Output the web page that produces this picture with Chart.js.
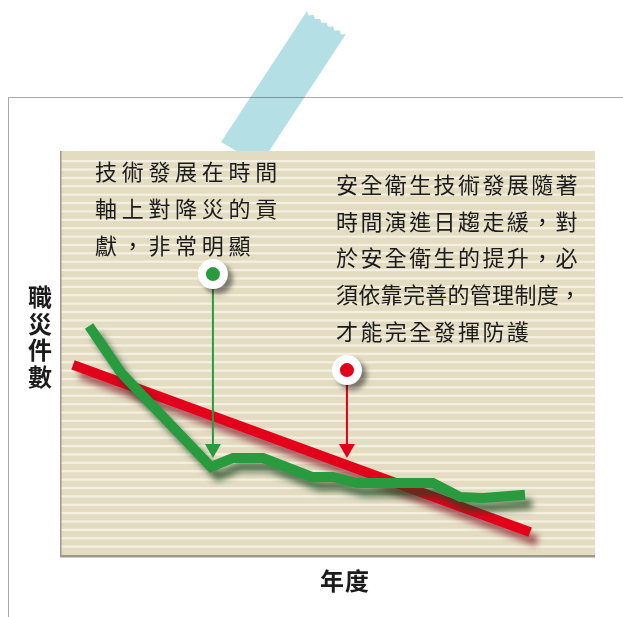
<!DOCTYPE html>
<html>
<head>
<meta charset="utf-8">
<script src="https://cdn.jsdelivr.net/npm/chart.js@4.4.0/dist/chart.umd.min.js"></script>
<style>
html, body { margin: 0; padding: 0; background: #fff; }
#wrap { position: relative; width: 623px; height: 617px; overflow: hidden; }
#chart { position: absolute; left: 0; top: 0; }
.txt { position: absolute; font-family: "Noto Sans CJK TC", "Noto Sans CJK SC", sans-serif; color: #1b1b1b; white-space: nowrap; }
.note1 { left: 95px; top: 152px; font-size: 22px; line-height: 37px; letter-spacing: 4.7px; }
.note2 { left: 336px; top: 165px; font-size: 22px; line-height: 36.7px; letter-spacing: 2.4px; }
.note2 .tight { letter-spacing: 0.3px; }
.ylab { left: 28px; top: 283px; width: 24px; font-size: 24px; line-height: 26.7px; font-weight: bold; text-align: center; }
.xlab { left: 320px; top: 565px; font-size: 24px; line-height: 30px; font-weight: bold; letter-spacing: 1px; }
</style>
</head>
<body>
<div id="wrap">
  <canvas id="chart" width="623" height="617"></canvas>
  <div class="txt note1">技術發展在時間<br>軸上對降災的貢<br>獻，非常明顯</div>
  <div class="txt note2">安全衛生技術發展隨著<br>時間演進日趨走緩，對<br>於安全衛生的提升，必<br><span class="tight">須依靠完善的管理制度，</span><br>才能完全發揮防護</div>
  <div class="txt ylab">職<br>災<br>件<br>數</div>
  <div class="txt xlab">年度</div>
</div>
<script>
// 職災件數（圖上沒有刻度，數值為相對位置）
const greenX = [1.05, 2.25, 5.62, 6.44, 7.57, 9.40, 10.19, 11.09, 13.93, 14.94, 15.81, 17.38];
const greenY = [56.8, 45.2, 22.0, 24.2, 24.2, 19.5, 19.5, 18.0, 18.0, 14.6, 14.3, 15.1];
// 安全衛生技術趨勢線
const redX = [0.45, 17.57];
const redY = [47.2, 5.9];
// 標註點與箭頭終點
const markX = [5.69, 10.71];
const markY = [69.6, 45.9];
const arrowEndY = [24.2, 24.2];
const markColors = ['#279b3d', '#e2001b'];

const GREEN = '#279b3d';
const RED = '#e2001b';

function pts(xs, ys) {
    return xs.map((x, i) => ({ x: x, y: ys[i] }));
}

// 陰影設定（依 dataset 順序）
const shadows = {
    1: { color: 'rgba(0,0,0,0.45)', x: 5, y: 5, blur: 5 },
    2: { color: 'rgba(25,70,30,0.7)', x: 7, y: 9, blur: 6 },
    3: { color: 'rgba(120,0,20,0.6)', x: 7, y: 9, blur: 6 }
};

const decor = {
    id: 'decor',
    beforeDraw(chart) {
        const ctx = chart.ctx;
        const a = chart.chartArea;
        ctx.save();
        // 膠帶
        const TL = [307, 11], TR = [346, 34];
        const inward = [-0.549, 0.836];
        ctx.fillStyle = '#b4e0e5';
        ctx.beginPath();
        ctx.moveTo(TL[0], TL[1]);
        const teeth = 12;
        for (let i = 1; i < teeth; i++) {
            const t = i / teeth;
            const d = (i % 2) ? 3 : 0;
            ctx.lineTo(TL[0] + (TR[0] - TL[0]) * t + inward[0] * d,
                       TL[1] + (TR[1] - TL[1]) * t + inward[1] * d);
        }
        ctx.lineTo(TR[0], TR[1]);
        ctx.lineTo(260, 165);
        ctx.lineTo(221, 142);
        ctx.closePath();
        ctx.fill();
        // 外框
        ctx.strokeStyle = 'rgba(0,0,0,0.33)';
        ctx.lineWidth = 1;
        ctx.beginPath();
        ctx.moveTo(623, 97.5);
        ctx.lineTo(8.5, 97.5);
        ctx.lineTo(8.5, 617);
        ctx.stroke();
        // 圖表底色與橫紋
        ctx.fillStyle = '#e3dcc1';
        ctx.fillRect(a.left, a.top, a.right - a.left, a.bottom - a.top);
        ctx.fillStyle = '#f3efe2';
        for (let y = a.top + 9; y < a.bottom - 3; y += 8.38) {
            ctx.fillRect(a.left, y, a.right - a.left, 2.3);
        }
        ctx.fillStyle = '#9b988e';
        ctx.fillRect(a.left - 1, a.top, 1.5, a.bottom - a.top);
        ctx.fillRect(a.left - 1, a.bottom - 1, a.right - a.left + 1, 2.5);
        ctx.restore();
    },
    beforeDatasetDraw(chart, args) {
        const ctx = chart.ctx;
        if (args.index === 1) {
            // 箭頭
            const xs = chart.scales.x, ys = chart.scales.y;
            markX.forEach((mx, i) => {
                const px = xs.getPixelForValue(mx);
                const top = ys.getPixelForValue(markY[i]);
                const tip = ys.getPixelForValue(arrowEndY[i]);
                ctx.save();
                ctx.strokeStyle = markColors[i];
                ctx.fillStyle = markColors[i];
                ctx.lineWidth = 2;
                ctx.beginPath();
                ctx.moveTo(px, top);
                ctx.lineTo(px, tip - 10);
                ctx.stroke();
                ctx.beginPath();
                ctx.moveTo(px - 8, tip - 14);
                ctx.lineTo(px + 8, tip - 14);
                ctx.lineTo(px, tip);
                ctx.closePath();
                ctx.fill();
                ctx.restore();
            });
        }
        ctx.save();
        const s = shadows[args.index];
        if (s) {
            ctx.shadowColor = s.color;
            ctx.shadowOffsetX = s.x;
            ctx.shadowOffsetY = s.y;
            ctx.shadowBlur = s.blur;
        }
    },
    afterDatasetDraw(chart) {
        chart.ctx.restore();
    }
};

new Chart(document.getElementById('chart').getContext('2d'), {
    type: 'line',
    data: {
        datasets: [
            {
                label: '標註點',
                data: pts(markX, markY),
                showLine: false,
                pointRadius: 7,
                pointBorderWidth: 0,
                pointBackgroundColor: markColors,
                clip: false
            },
            {
                label: '標註底',
                data: pts(markX, markY),
                showLine: false,
                pointRadius: 15,
                pointBorderWidth: 0,
                pointBackgroundColor: '#ffffff',
                clip: false
            },
            {
                label: '職災件數',
                data: pts(greenX, greenY),
                borderColor: GREEN,
                borderWidth: 10,
                borderJoinStyle: 'miter',
                borderCapStyle: 'butt',
                pointRadius: 0,
                tension: 0,
                fill: false,
                clip: false
            },
            {
                label: '技術發展',
                data: pts(redX, redY),
                borderColor: RED,
                borderWidth: 10,
                borderCapStyle: 'butt',
                pointRadius: 0,
                tension: 0,
                fill: false,
                clip: false
            }
        ]
    },
    options: {
        responsive: false,
        animation: false,
        layout: { padding: { left: 61, top: 151, right: 28, bottom: 61 } },
        scales: {
            x: { type: 'linear', min: 0, max: 20, display: false },
            y: { min: 0, max: 100, display: false }
        },
        plugins: {
            legend: { display: false },
            tooltip: { enabled: false }
        },
        events: []
    },
    plugins: [decor]
});
</script>
</body>
</html>
